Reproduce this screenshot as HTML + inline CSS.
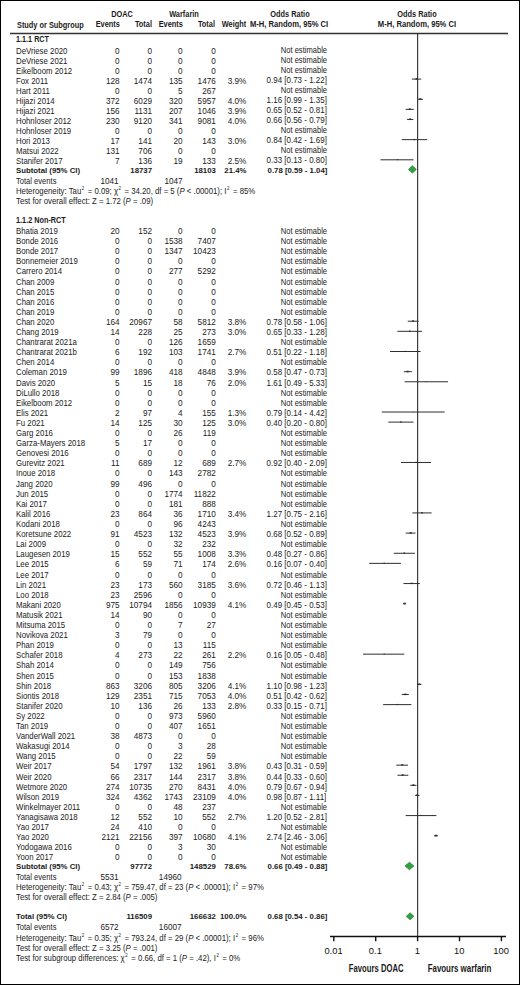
<!DOCTYPE html>
<html><head><meta charset="utf-8"><style>
html,body{margin:0;padding:0;background:#fff;overflow:hidden;}
#c{position:relative;width:520px;height:985px;overflow:hidden;background:#fff;font-family:"Liberation Sans",sans-serif;color:#1a1a1a;}
#b{position:absolute;left:0;top:0;width:520px;height:985px;box-sizing:border-box;border:1px solid #000;}
.t{position:absolute;white-space:nowrap;line-height:0;}
.sup{font-size:4.6px;position:relative;top:-3.6px;margin:0 1.4px 0 0.6px;}
svg{position:absolute;left:0;top:0;}
</style></head><body><div id="c"><div id="b"></div>
<svg width="520" height="985" viewBox="0 0 520 985">
<line x1="417.60" y1="33.5" x2="417.60" y2="936.50" stroke="#3c3c3c" stroke-width="1.2"/>
<line x1="10" y1="33.5" x2="508" y2="33.5" stroke="#333" stroke-width="1.4"/>
<line x1="330" y1="936.50" x2="506" y2="936.50" stroke="#111" stroke-width="1.5"/>
<line x1="333.80" y1="936.50" x2="333.80" y2="941.2" stroke="#111" stroke-width="1.4"/>
<line x1="375.70" y1="936.50" x2="375.70" y2="941.2" stroke="#111" stroke-width="1.4"/>
<line x1="417.60" y1="936.50" x2="417.60" y2="941.2" stroke="#111" stroke-width="1.4"/>
<line x1="459.50" y1="936.50" x2="459.50" y2="941.2" stroke="#111" stroke-width="1.4"/>
<line x1="501.40" y1="936.50" x2="501.40" y2="941.2" stroke="#111" stroke-width="1.4"/>
<line x1="411.87" y1="79.10" x2="421.22" y2="79.10" stroke="#2e2e2e" stroke-width="1"/>
<rect x="415.50" y="78.12" width="1.95" height="1.56" fill="#1c2f45"/>
<line x1="417.42" y1="99.28" x2="423.06" y2="99.28" stroke="#2e2e2e" stroke-width="1"/>
<rect x="419.30" y="98.28" width="2.00" height="1.60" fill="#1c2f45"/>
<line x1="405.70" y1="109.36" x2="413.77" y2="109.36" stroke="#2e2e2e" stroke-width="1"/>
<rect x="408.79" y="108.39" width="1.95" height="1.56" fill="#1c2f45"/>
<line x1="407.05" y1="119.45" x2="413.31" y2="119.45" stroke="#2e2e2e" stroke-width="1"/>
<rect x="409.04" y="118.45" width="2.00" height="1.60" fill="#1c2f45"/>
<line x1="401.81" y1="139.63" x2="427.15" y2="139.63" stroke="#2e2e2e" stroke-width="1"/>
<rect x="413.68" y="138.88" width="1.50" height="1.20" fill="#1c2f45"/>
<line x1="380.47" y1="159.81" x2="413.54" y2="159.81" stroke="#2e2e2e" stroke-width="1"/>
<rect x="396.80" y="159.18" width="1.25" height="1.00" fill="#1c2f45"/>
<line x1="407.69" y1="321.23" x2="418.66" y2="321.23" stroke="#2e2e2e" stroke-width="1"/>
<rect x="412.13" y="320.28" width="1.90" height="1.52" fill="#1c2f45"/>
<line x1="397.43" y1="331.32" x2="422.09" y2="331.32" stroke="#2e2e2e" stroke-width="1"/>
<rect x="409.01" y="330.57" width="1.50" height="1.20" fill="#1c2f45"/>
<line x1="390.05" y1="351.50" x2="420.61" y2="351.50" stroke="#2e2e2e" stroke-width="1"/>
<rect x="404.67" y="350.82" width="1.35" height="1.08" fill="#1c2f45"/>
<line x1="403.86" y1="371.68" x2="411.87" y2="371.68" stroke="#2e2e2e" stroke-width="1"/>
<rect x="406.71" y="370.70" width="1.95" height="1.56" fill="#1c2f45"/>
<line x1="404.62" y1="381.77" x2="448.05" y2="381.77" stroke="#2e2e2e" stroke-width="1"/>
<rect x="425.77" y="381.27" width="1.00" height="0.80" fill="#1c2f45"/>
<line x1="381.82" y1="412.03" x2="444.64" y2="412.03" stroke="#2e2e2e" stroke-width="1"/>
<rect x="412.99" y="411.71" width="0.65" height="0.52" fill="#1c2f45"/>
<line x1="388.31" y1="422.12" x2="413.54" y2="422.12" stroke="#2e2e2e" stroke-width="1"/>
<rect x="400.18" y="421.37" width="1.50" height="1.20" fill="#1c2f45"/>
<line x1="400.93" y1="462.48" x2="431.01" y2="462.48" stroke="#2e2e2e" stroke-width="1"/>
<rect x="415.41" y="461.80" width="1.35" height="1.08" fill="#1c2f45"/>
<line x1="412.37" y1="512.92" x2="431.61" y2="512.92" stroke="#2e2e2e" stroke-width="1"/>
<rect x="421.10" y="512.07" width="1.70" height="1.36" fill="#1c2f45"/>
<line x1="405.70" y1="533.10" x2="415.48" y2="533.10" stroke="#2e2e2e" stroke-width="1"/>
<rect x="409.61" y="532.13" width="1.95" height="1.56" fill="#1c2f45"/>
<line x1="393.77" y1="553.28" x2="414.86" y2="553.28" stroke="#2e2e2e" stroke-width="1"/>
<rect x="403.42" y="552.46" width="1.65" height="1.32" fill="#1c2f45"/>
<line x1="369.21" y1="563.37" x2="400.93" y2="563.37" stroke="#2e2e2e" stroke-width="1"/>
<rect x="383.60" y="562.72" width="1.30" height="1.04" fill="#1c2f45"/>
<line x1="403.47" y1="583.55" x2="419.82" y2="583.55" stroke="#2e2e2e" stroke-width="1"/>
<rect x="410.72" y="582.65" width="1.80" height="1.44" fill="#1c2f45"/>
<line x1="403.07" y1="603.73" x2="406.05" y2="603.73" stroke="#2e2e2e" stroke-width="1"/>
<rect x="403.59" y="602.70" width="2.05" height="1.64" fill="#1c2f45"/>
<line x1="363.09" y1="654.17" x2="404.24" y2="654.17" stroke="#2e2e2e" stroke-width="1"/>
<rect x="383.70" y="653.62" width="1.10" height="0.88" fill="#1c2f45"/>
<line x1="417.23" y1="684.44" x2="421.37" y2="684.44" stroke="#2e2e2e" stroke-width="1"/>
<rect x="418.31" y="683.41" width="2.05" height="1.64" fill="#1c2f45"/>
<line x1="401.81" y1="694.53" x2="408.90" y2="694.53" stroke="#2e2e2e" stroke-width="1"/>
<rect x="404.35" y="693.53" width="2.00" height="1.60" fill="#1c2f45"/>
<line x1="383.08" y1="704.62" x2="411.37" y2="704.62" stroke="#2e2e2e" stroke-width="1"/>
<rect x="396.73" y="703.92" width="1.40" height="1.12" fill="#1c2f45"/>
<line x1="396.29" y1="765.15" x2="408.00" y2="765.15" stroke="#2e2e2e" stroke-width="1"/>
<rect x="401.29" y="764.20" width="1.90" height="1.52" fill="#1c2f45"/>
<line x1="397.43" y1="775.24" x2="408.30" y2="775.24" stroke="#2e2e2e" stroke-width="1"/>
<rect x="401.71" y="774.29" width="1.90" height="1.52" fill="#1c2f45"/>
<line x1="410.31" y1="785.33" x2="416.47" y2="785.33" stroke="#2e2e2e" stroke-width="1"/>
<rect x="412.31" y="784.33" width="2.00" height="1.60" fill="#1c2f45"/>
<line x1="415.07" y1="795.42" x2="419.50" y2="795.42" stroke="#2e2e2e" stroke-width="1"/>
<rect x="416.23" y="794.42" width="2.00" height="1.60" fill="#1c2f45"/>
<line x1="405.70" y1="815.59" x2="436.40" y2="815.59" stroke="#2e2e2e" stroke-width="1"/>
<rect x="420.24" y="814.92" width="1.35" height="1.08" fill="#1c2f45"/>
<line x1="433.98" y1="835.77" x2="437.95" y2="835.77" stroke="#2e2e2e" stroke-width="1"/>
<rect x="434.92" y="834.75" width="2.05" height="1.64" fill="#1c2f45"/>
<polygon points="408.50,169.40 412.40,165.70 416.30,169.40 412.40,173.10" fill="#2fa33f" stroke="#1f7a2c" stroke-width="0.7"/>
<polygon points="405.00,866.00 409.45,862.30 413.90,866.00 409.45,869.70" fill="#2fa33f" stroke="#1f7a2c" stroke-width="0.7"/>
<polygon points="406.30,916.30 410.10,912.80 413.90,916.30 410.10,919.80" fill="#2fa33f" stroke="#1f7a2c" stroke-width="0.7"/>
</svg>
<div class="t" style="left:-28.20px;width:300px;text-align:center;top:15px;font-size:8.2px;font-weight:bold;transform:scaleX(0.9);transform-origin:center 0;">DOAC</div>
<div class="t" style="left:33.50px;width:300px;text-align:center;top:15px;font-size:8.2px;font-weight:bold;transform:scaleX(0.9);transform-origin:center 0;">Warfarin</div>
<div class="t" style="left:140.00px;width:300px;text-align:center;top:15px;font-size:8.2px;font-weight:bold;transform:scaleX(0.9);transform-origin:center 0;">Odds Ratio</div>
<div class="t" style="left:266.80px;width:300px;text-align:center;top:15px;font-size:8.2px;font-weight:bold;transform:scaleX(0.9);transform-origin:center 0;">Odds Ratio</div>
<div class="t" style="left:16.50px;top:26px;font-size:8.2px;font-weight:bold;transform:scaleX(0.9);transform-origin:left 0;">Study or Subgroup</div>
<div class="t" style="right:400.40px;top:25px;font-size:8.2px;font-weight:bold;transform:scaleX(0.9);transform-origin:right 0;">Events</div>
<div class="t" style="right:368.00px;top:25px;font-size:8.2px;font-weight:bold;transform:scaleX(0.9);transform-origin:right 0;">Total</div>
<div class="t" style="right:337.40px;top:25px;font-size:8.2px;font-weight:bold;transform:scaleX(0.9);transform-origin:right 0;">Events</div>
<div class="t" style="right:305.20px;top:25px;font-size:8.2px;font-weight:bold;transform:scaleX(0.9);transform-origin:right 0;">Total</div>
<div class="t" style="right:273.60px;top:25px;font-size:8.2px;font-weight:bold;transform:scaleX(0.9);transform-origin:right 0;">Weight</div>
<div class="t" style="right:191.60px;top:25px;font-size:8.2px;font-weight:bold;transform:scaleX(0.93);transform-origin:right 0;">M-H, Random, 95% CI</div>
<div class="t" style="left:266.90px;width:300px;text-align:center;top:25px;font-size:8.2px;font-weight:bold;transform:scaleX(0.93);transform-origin:center 0;">M-H, Random, 95% CI</div>
<div class="t" style="left:16.30px;top:40px;font-size:8.2px;font-weight:bold;transform:scaleX(0.885);transform-origin:left 0;">1.1.1 RCT</div>
<div class="t" style="left:16.00px;top:52px;font-size:8.2px;transform:scaleX(0.955);transform-origin:left 0;">DeVriese 2020</div>
<div class="t" style="right:400.40px;top:52px;font-size:8.2px;">0</div>
<div class="t" style="right:368.00px;top:52px;font-size:8.2px;">0</div>
<div class="t" style="right:337.40px;top:52px;font-size:8.2px;">0</div>
<div class="t" style="right:304.20px;top:52px;font-size:8.2px;">0</div>
<div class="t" style="right:192.90px;top:51px;font-size:8.2px;transform:scaleX(0.925);transform-origin:right 0;">Not estimable</div>
<div class="t" style="left:16.00px;top:62px;font-size:8.2px;transform:scaleX(0.955);transform-origin:left 0;">DeVriese 2021</div>
<div class="t" style="right:400.40px;top:62px;font-size:8.2px;">0</div>
<div class="t" style="right:368.00px;top:62px;font-size:8.2px;">0</div>
<div class="t" style="right:337.40px;top:62px;font-size:8.2px;">0</div>
<div class="t" style="right:304.20px;top:62px;font-size:8.2px;">0</div>
<div class="t" style="right:192.90px;top:61px;font-size:8.2px;transform:scaleX(0.925);transform-origin:right 0;">Not estimable</div>
<div class="t" style="left:16.00px;top:72px;font-size:8.2px;transform:scaleX(0.955);transform-origin:left 0;">Eikelboom 2012</div>
<div class="t" style="right:400.40px;top:72px;font-size:8.2px;">0</div>
<div class="t" style="right:368.00px;top:72px;font-size:8.2px;">0</div>
<div class="t" style="right:337.40px;top:72px;font-size:8.2px;">0</div>
<div class="t" style="right:304.20px;top:72px;font-size:8.2px;">0</div>
<div class="t" style="right:192.90px;top:71px;font-size:8.2px;transform:scaleX(0.925);transform-origin:right 0;">Not estimable</div>
<div class="t" style="left:16.00px;top:82px;font-size:8.2px;transform:scaleX(0.955);transform-origin:left 0;">Fox 2011</div>
<div class="t" style="right:400.40px;top:82px;font-size:8.2px;">128</div>
<div class="t" style="right:368.00px;top:82px;font-size:8.2px;">1474</div>
<div class="t" style="right:337.40px;top:82px;font-size:8.2px;">135</div>
<div class="t" style="right:304.20px;top:82px;font-size:8.2px;">1476</div>
<div class="t" style="right:273.60px;top:82px;font-size:8.2px;">3.9%</div>
<div class="t" style="right:193.40px;top:81px;font-size:8.2px;transform:scaleX(0.975);transform-origin:right 0;">0.94 [0.73 - 1.22]</div>
<div class="t" style="left:16.00px;top:92px;font-size:8.2px;transform:scaleX(0.955);transform-origin:left 0;">Hart 2011</div>
<div class="t" style="right:400.40px;top:92px;font-size:8.2px;">0</div>
<div class="t" style="right:368.00px;top:92px;font-size:8.2px;">0</div>
<div class="t" style="right:337.40px;top:92px;font-size:8.2px;">5</div>
<div class="t" style="right:304.20px;top:92px;font-size:8.2px;">267</div>
<div class="t" style="right:192.90px;top:91px;font-size:8.2px;transform:scaleX(0.925);transform-origin:right 0;">Not estimable</div>
<div class="t" style="left:16.00px;top:102px;font-size:8.2px;transform:scaleX(0.955);transform-origin:left 0;">Hijazi 2014</div>
<div class="t" style="right:400.40px;top:102px;font-size:8.2px;">372</div>
<div class="t" style="right:368.00px;top:102px;font-size:8.2px;">6029</div>
<div class="t" style="right:337.40px;top:102px;font-size:8.2px;">320</div>
<div class="t" style="right:304.20px;top:102px;font-size:8.2px;">5957</div>
<div class="t" style="right:273.60px;top:102px;font-size:8.2px;">4.0%</div>
<div class="t" style="right:193.40px;top:101px;font-size:8.2px;transform:scaleX(0.975);transform-origin:right 0;">1.16 [0.99 - 1.35]</div>
<div class="t" style="left:16.00px;top:112px;font-size:8.2px;transform:scaleX(0.955);transform-origin:left 0;">Hijazi 2021</div>
<div class="t" style="right:400.40px;top:112px;font-size:8.2px;">156</div>
<div class="t" style="right:368.00px;top:112px;font-size:8.2px;">1131</div>
<div class="t" style="right:337.40px;top:112px;font-size:8.2px;">207</div>
<div class="t" style="right:304.20px;top:112px;font-size:8.2px;">1046</div>
<div class="t" style="right:273.60px;top:112px;font-size:8.2px;">3.9%</div>
<div class="t" style="right:193.40px;top:111px;font-size:8.2px;transform:scaleX(0.975);transform-origin:right 0;">0.65 [0.52 - 0.81]</div>
<div class="t" style="left:16.00px;top:122px;font-size:8.2px;transform:scaleX(0.955);transform-origin:left 0;">Hohnloser 2012</div>
<div class="t" style="right:400.40px;top:122px;font-size:8.2px;">230</div>
<div class="t" style="right:368.00px;top:122px;font-size:8.2px;">9120</div>
<div class="t" style="right:337.40px;top:122px;font-size:8.2px;">341</div>
<div class="t" style="right:304.20px;top:122px;font-size:8.2px;">9081</div>
<div class="t" style="right:273.60px;top:122px;font-size:8.2px;">4.0%</div>
<div class="t" style="right:193.40px;top:121px;font-size:8.2px;transform:scaleX(0.975);transform-origin:right 0;">0.66 [0.56 - 0.79]</div>
<div class="t" style="left:16.00px;top:132px;font-size:8.2px;transform:scaleX(0.955);transform-origin:left 0;">Hohnloser 2019</div>
<div class="t" style="right:400.40px;top:132px;font-size:8.2px;">0</div>
<div class="t" style="right:368.00px;top:132px;font-size:8.2px;">0</div>
<div class="t" style="right:337.40px;top:132px;font-size:8.2px;">0</div>
<div class="t" style="right:304.20px;top:132px;font-size:8.2px;">0</div>
<div class="t" style="right:192.90px;top:131px;font-size:8.2px;transform:scaleX(0.925);transform-origin:right 0;">Not estimable</div>
<div class="t" style="left:16.00px;top:142px;font-size:8.2px;transform:scaleX(0.955);transform-origin:left 0;">Hori 2013</div>
<div class="t" style="right:400.40px;top:142px;font-size:8.2px;">17</div>
<div class="t" style="right:368.00px;top:142px;font-size:8.2px;">141</div>
<div class="t" style="right:337.40px;top:142px;font-size:8.2px;">20</div>
<div class="t" style="right:304.20px;top:142px;font-size:8.2px;">143</div>
<div class="t" style="right:273.60px;top:142px;font-size:8.2px;">3.0%</div>
<div class="t" style="right:193.40px;top:141px;font-size:8.2px;transform:scaleX(0.975);transform-origin:right 0;">0.84 [0.42 - 1.69]</div>
<div class="t" style="left:16.00px;top:152px;font-size:8.2px;transform:scaleX(0.955);transform-origin:left 0;">Matsui 2022</div>
<div class="t" style="right:400.40px;top:152px;font-size:8.2px;">131</div>
<div class="t" style="right:368.00px;top:152px;font-size:8.2px;">706</div>
<div class="t" style="right:337.40px;top:152px;font-size:8.2px;">0</div>
<div class="t" style="right:304.20px;top:152px;font-size:8.2px;">0</div>
<div class="t" style="right:192.90px;top:151px;font-size:8.2px;transform:scaleX(0.925);transform-origin:right 0;">Not estimable</div>
<div class="t" style="left:16.00px;top:162px;font-size:8.2px;transform:scaleX(0.955);transform-origin:left 0;">Stanifer 2017</div>
<div class="t" style="right:400.40px;top:162px;font-size:8.2px;">7</div>
<div class="t" style="right:368.00px;top:162px;font-size:8.2px;">136</div>
<div class="t" style="right:337.40px;top:162px;font-size:8.2px;">19</div>
<div class="t" style="right:304.20px;top:162px;font-size:8.2px;">133</div>
<div class="t" style="right:273.60px;top:162px;font-size:8.2px;">2.5%</div>
<div class="t" style="right:193.40px;top:161px;font-size:8.2px;transform:scaleX(0.975);transform-origin:right 0;">0.33 [0.13 - 0.80]</div>
<div class="t" style="left:16.00px;top:171px;font-size:7.8px;font-weight:bold;transform:scaleX(1);transform-origin:left 0;">Subtotal (95% CI)</div>
<div class="t" style="right:368.00px;top:171px;font-size:7.8px;font-weight:bold;">18737</div>
<div class="t" style="right:304.20px;top:171px;font-size:7.8px;font-weight:bold;">18103</div>
<div class="t" style="right:273.60px;top:171px;font-size:7.8px;font-weight:bold;">21.4%</div>
<div class="t" style="right:192.60px;top:171px;font-size:7.8px;font-weight:bold;">0.78 [0.59 - 1.04]</div>
<div class="t" style="left:16.00px;top:182px;font-size:8.2px;transform:scaleX(0.925);transform-origin:left 0;">Total events</div>
<div class="t" style="right:401.40px;top:182px;font-size:8.2px;">1041</div>
<div class="t" style="right:337.40px;top:182px;font-size:8.2px;">1047</div>
<div class="t" style="left:16.00px;top:192px;font-size:8.2px;transform:scaleX(0.951);transform-origin:left 0;">Heterogeneity: Tau<span class="sup">2</span> = 0.09; &chi;<span class="sup">2</span> = 34.20, df = 5 (<i>P</i> &lt; .00001); I<span class="sup">2</span> = 85%</div>
<div class="t" style="left:16.00px;top:202px;font-size:8.2px;transform:scaleX(0.951);transform-origin:left 0;">Test for overall effect: Z = 1.72 (<i>P</i> = .09)</div>
<div class="t" style="left:16.30px;top:221px;font-size:8.2px;font-weight:bold;transform:scaleX(0.89);transform-origin:left 0;">1.1.2 Non-RCT</div>
<div class="t" style="left:16.00px;top:232px;font-size:8.2px;transform:scaleX(0.955);transform-origin:left 0;">Bhatia 2019</div>
<div class="t" style="right:400.40px;top:232px;font-size:8.2px;">20</div>
<div class="t" style="right:368.00px;top:232px;font-size:8.2px;">152</div>
<div class="t" style="right:337.40px;top:232px;font-size:8.2px;">0</div>
<div class="t" style="right:304.20px;top:232px;font-size:8.2px;">0</div>
<div class="t" style="right:192.90px;top:232px;font-size:8.2px;transform:scaleX(0.925);transform-origin:right 0;">Not estimable</div>
<div class="t" style="left:16.00px;top:242px;font-size:8.2px;transform:scaleX(0.955);transform-origin:left 0;">Bonde 2016</div>
<div class="t" style="right:400.40px;top:242px;font-size:8.2px;">0</div>
<div class="t" style="right:368.00px;top:242px;font-size:8.2px;">0</div>
<div class="t" style="right:337.40px;top:242px;font-size:8.2px;">1538</div>
<div class="t" style="right:304.20px;top:242px;font-size:8.2px;">7407</div>
<div class="t" style="right:192.90px;top:242px;font-size:8.2px;transform:scaleX(0.925);transform-origin:right 0;">Not estimable</div>
<div class="t" style="left:16.00px;top:252px;font-size:8.2px;transform:scaleX(0.955);transform-origin:left 0;">Bonde 2017</div>
<div class="t" style="right:400.40px;top:252px;font-size:8.2px;">0</div>
<div class="t" style="right:368.00px;top:252px;font-size:8.2px;">0</div>
<div class="t" style="right:337.40px;top:252px;font-size:8.2px;">1347</div>
<div class="t" style="right:304.20px;top:252px;font-size:8.2px;">10423</div>
<div class="t" style="right:192.90px;top:252px;font-size:8.2px;transform:scaleX(0.925);transform-origin:right 0;">Not estimable</div>
<div class="t" style="left:16.00px;top:262px;font-size:8.2px;transform:scaleX(0.955);transform-origin:left 0;">Bonnemeier 2019</div>
<div class="t" style="right:400.40px;top:262px;font-size:8.2px;">0</div>
<div class="t" style="right:368.00px;top:262px;font-size:8.2px;">0</div>
<div class="t" style="right:337.40px;top:262px;font-size:8.2px;">0</div>
<div class="t" style="right:304.20px;top:262px;font-size:8.2px;">0</div>
<div class="t" style="right:192.90px;top:262px;font-size:8.2px;transform:scaleX(0.925);transform-origin:right 0;">Not estimable</div>
<div class="t" style="left:16.00px;top:272px;font-size:8.2px;transform:scaleX(0.955);transform-origin:left 0;">Carrero 2014</div>
<div class="t" style="right:400.40px;top:272px;font-size:8.2px;">0</div>
<div class="t" style="right:368.00px;top:272px;font-size:8.2px;">0</div>
<div class="t" style="right:337.40px;top:272px;font-size:8.2px;">277</div>
<div class="t" style="right:304.20px;top:272px;font-size:8.2px;">5292</div>
<div class="t" style="right:192.90px;top:272px;font-size:8.2px;transform:scaleX(0.925);transform-origin:right 0;">Not estimable</div>
<div class="t" style="left:16.00px;top:283px;font-size:8.2px;transform:scaleX(0.955);transform-origin:left 0;">Chan 2009</div>
<div class="t" style="right:400.40px;top:283px;font-size:8.2px;">0</div>
<div class="t" style="right:368.00px;top:283px;font-size:8.2px;">0</div>
<div class="t" style="right:337.40px;top:283px;font-size:8.2px;">0</div>
<div class="t" style="right:304.20px;top:283px;font-size:8.2px;">0</div>
<div class="t" style="right:192.90px;top:283px;font-size:8.2px;transform:scaleX(0.925);transform-origin:right 0;">Not estimable</div>
<div class="t" style="left:16.00px;top:293px;font-size:8.2px;transform:scaleX(0.955);transform-origin:left 0;">Chan 2015</div>
<div class="t" style="right:400.40px;top:293px;font-size:8.2px;">0</div>
<div class="t" style="right:368.00px;top:293px;font-size:8.2px;">0</div>
<div class="t" style="right:337.40px;top:293px;font-size:8.2px;">0</div>
<div class="t" style="right:304.20px;top:293px;font-size:8.2px;">0</div>
<div class="t" style="right:192.90px;top:293px;font-size:8.2px;transform:scaleX(0.925);transform-origin:right 0;">Not estimable</div>
<div class="t" style="left:16.00px;top:303px;font-size:8.2px;transform:scaleX(0.955);transform-origin:left 0;">Chan 2016</div>
<div class="t" style="right:400.40px;top:303px;font-size:8.2px;">0</div>
<div class="t" style="right:368.00px;top:303px;font-size:8.2px;">0</div>
<div class="t" style="right:337.40px;top:303px;font-size:8.2px;">0</div>
<div class="t" style="right:304.20px;top:303px;font-size:8.2px;">0</div>
<div class="t" style="right:192.90px;top:303px;font-size:8.2px;transform:scaleX(0.925);transform-origin:right 0;">Not estimable</div>
<div class="t" style="left:16.00px;top:313px;font-size:8.2px;transform:scaleX(0.955);transform-origin:left 0;">Chan 2019</div>
<div class="t" style="right:400.40px;top:313px;font-size:8.2px;">0</div>
<div class="t" style="right:368.00px;top:313px;font-size:8.2px;">0</div>
<div class="t" style="right:337.40px;top:313px;font-size:8.2px;">0</div>
<div class="t" style="right:304.20px;top:313px;font-size:8.2px;">0</div>
<div class="t" style="right:192.90px;top:313px;font-size:8.2px;transform:scaleX(0.925);transform-origin:right 0;">Not estimable</div>
<div class="t" style="left:16.00px;top:323px;font-size:8.2px;transform:scaleX(0.955);transform-origin:left 0;">Chan 2020</div>
<div class="t" style="right:400.40px;top:323px;font-size:8.2px;">164</div>
<div class="t" style="right:368.00px;top:323px;font-size:8.2px;">20967</div>
<div class="t" style="right:337.40px;top:323px;font-size:8.2px;">58</div>
<div class="t" style="right:304.20px;top:323px;font-size:8.2px;">5812</div>
<div class="t" style="right:273.60px;top:323px;font-size:8.2px;">3.8%</div>
<div class="t" style="right:193.40px;top:323px;font-size:8.2px;transform:scaleX(0.975);transform-origin:right 0;">0.78 [0.58 - 1.06]</div>
<div class="t" style="left:16.00px;top:333px;font-size:8.2px;transform:scaleX(0.955);transform-origin:left 0;">Chang 2019</div>
<div class="t" style="right:400.40px;top:333px;font-size:8.2px;">14</div>
<div class="t" style="right:368.00px;top:333px;font-size:8.2px;">228</div>
<div class="t" style="right:337.40px;top:333px;font-size:8.2px;">25</div>
<div class="t" style="right:304.20px;top:333px;font-size:8.2px;">273</div>
<div class="t" style="right:273.60px;top:333px;font-size:8.2px;">3.0%</div>
<div class="t" style="right:193.40px;top:333px;font-size:8.2px;transform:scaleX(0.975);transform-origin:right 0;">0.65 [0.33 - 1.28]</div>
<div class="t" style="left:16.00px;top:343px;font-size:8.2px;transform:scaleX(0.955);transform-origin:left 0;">Chantrarat 2021a</div>
<div class="t" style="right:400.40px;top:343px;font-size:8.2px;">0</div>
<div class="t" style="right:368.00px;top:343px;font-size:8.2px;">0</div>
<div class="t" style="right:337.40px;top:343px;font-size:8.2px;">126</div>
<div class="t" style="right:304.20px;top:343px;font-size:8.2px;">1659</div>
<div class="t" style="right:192.90px;top:343px;font-size:8.2px;transform:scaleX(0.925);transform-origin:right 0;">Not estimable</div>
<div class="t" style="left:16.00px;top:353px;font-size:8.2px;transform:scaleX(0.955);transform-origin:left 0;">Chantrarat 2021b</div>
<div class="t" style="right:400.40px;top:353px;font-size:8.2px;">6</div>
<div class="t" style="right:368.00px;top:353px;font-size:8.2px;">192</div>
<div class="t" style="right:337.40px;top:353px;font-size:8.2px;">103</div>
<div class="t" style="right:304.20px;top:353px;font-size:8.2px;">1741</div>
<div class="t" style="right:273.60px;top:353px;font-size:8.2px;">2.7%</div>
<div class="t" style="right:193.40px;top:353px;font-size:8.2px;transform:scaleX(0.975);transform-origin:right 0;">0.51 [0.22 - 1.18]</div>
<div class="t" style="left:16.00px;top:363px;font-size:8.2px;transform:scaleX(0.955);transform-origin:left 0;">Chen 2014</div>
<div class="t" style="right:400.40px;top:363px;font-size:8.2px;">0</div>
<div class="t" style="right:368.00px;top:363px;font-size:8.2px;">0</div>
<div class="t" style="right:337.40px;top:363px;font-size:8.2px;">0</div>
<div class="t" style="right:304.20px;top:363px;font-size:8.2px;">0</div>
<div class="t" style="right:192.90px;top:363px;font-size:8.2px;transform:scaleX(0.925);transform-origin:right 0;">Not estimable</div>
<div class="t" style="left:16.00px;top:373px;font-size:8.2px;transform:scaleX(0.955);transform-origin:left 0;">Coleman 2019</div>
<div class="t" style="right:400.40px;top:373px;font-size:8.2px;">99</div>
<div class="t" style="right:368.00px;top:373px;font-size:8.2px;">1896</div>
<div class="t" style="right:337.40px;top:373px;font-size:8.2px;">418</div>
<div class="t" style="right:304.20px;top:373px;font-size:8.2px;">4848</div>
<div class="t" style="right:273.60px;top:373px;font-size:8.2px;">3.9%</div>
<div class="t" style="right:193.40px;top:373px;font-size:8.2px;transform:scaleX(0.975);transform-origin:right 0;">0.58 [0.47 - 0.73]</div>
<div class="t" style="left:16.00px;top:384px;font-size:8.2px;transform:scaleX(0.955);transform-origin:left 0;">Davis 2020</div>
<div class="t" style="right:400.40px;top:384px;font-size:8.2px;">5</div>
<div class="t" style="right:368.00px;top:384px;font-size:8.2px;">15</div>
<div class="t" style="right:337.40px;top:384px;font-size:8.2px;">18</div>
<div class="t" style="right:304.20px;top:384px;font-size:8.2px;">76</div>
<div class="t" style="right:273.60px;top:384px;font-size:8.2px;">2.0%</div>
<div class="t" style="right:193.40px;top:384px;font-size:8.2px;transform:scaleX(0.975);transform-origin:right 0;">1.61 [0.49 - 5.33]</div>
<div class="t" style="left:16.00px;top:394px;font-size:8.2px;transform:scaleX(0.955);transform-origin:left 0;">DiLullo 2018</div>
<div class="t" style="right:400.40px;top:394px;font-size:8.2px;">0</div>
<div class="t" style="right:368.00px;top:394px;font-size:8.2px;">0</div>
<div class="t" style="right:337.40px;top:394px;font-size:8.2px;">0</div>
<div class="t" style="right:304.20px;top:394px;font-size:8.2px;">0</div>
<div class="t" style="right:192.90px;top:394px;font-size:8.2px;transform:scaleX(0.925);transform-origin:right 0;">Not estimable</div>
<div class="t" style="left:16.00px;top:404px;font-size:8.2px;transform:scaleX(0.955);transform-origin:left 0;">Eikelboom 2012</div>
<div class="t" style="right:400.40px;top:404px;font-size:8.2px;">0</div>
<div class="t" style="right:368.00px;top:404px;font-size:8.2px;">0</div>
<div class="t" style="right:337.40px;top:404px;font-size:8.2px;">0</div>
<div class="t" style="right:304.20px;top:404px;font-size:8.2px;">0</div>
<div class="t" style="right:192.90px;top:404px;font-size:8.2px;transform:scaleX(0.925);transform-origin:right 0;">Not estimable</div>
<div class="t" style="left:16.00px;top:414px;font-size:8.2px;transform:scaleX(0.955);transform-origin:left 0;">Elis 2021</div>
<div class="t" style="right:400.40px;top:414px;font-size:8.2px;">2</div>
<div class="t" style="right:368.00px;top:414px;font-size:8.2px;">97</div>
<div class="t" style="right:337.40px;top:414px;font-size:8.2px;">4</div>
<div class="t" style="right:304.20px;top:414px;font-size:8.2px;">155</div>
<div class="t" style="right:273.60px;top:414px;font-size:8.2px;">1.3%</div>
<div class="t" style="right:193.40px;top:414px;font-size:8.2px;transform:scaleX(0.975);transform-origin:right 0;">0.79 [0.14 - 4.42]</div>
<div class="t" style="left:16.00px;top:424px;font-size:8.2px;transform:scaleX(0.955);transform-origin:left 0;">Fu 2021</div>
<div class="t" style="right:400.40px;top:424px;font-size:8.2px;">14</div>
<div class="t" style="right:368.00px;top:424px;font-size:8.2px;">125</div>
<div class="t" style="right:337.40px;top:424px;font-size:8.2px;">30</div>
<div class="t" style="right:304.20px;top:424px;font-size:8.2px;">125</div>
<div class="t" style="right:273.60px;top:424px;font-size:8.2px;">3.0%</div>
<div class="t" style="right:193.40px;top:424px;font-size:8.2px;transform:scaleX(0.975);transform-origin:right 0;">0.40 [0.20 - 0.80]</div>
<div class="t" style="left:16.00px;top:434px;font-size:8.2px;transform:scaleX(0.955);transform-origin:left 0;">Garg 2016</div>
<div class="t" style="right:400.40px;top:434px;font-size:8.2px;">0</div>
<div class="t" style="right:368.00px;top:434px;font-size:8.2px;">0</div>
<div class="t" style="right:337.40px;top:434px;font-size:8.2px;">26</div>
<div class="t" style="right:304.20px;top:434px;font-size:8.2px;">119</div>
<div class="t" style="right:192.90px;top:434px;font-size:8.2px;transform:scaleX(0.925);transform-origin:right 0;">Not estimable</div>
<div class="t" style="left:16.00px;top:444px;font-size:8.2px;transform:scaleX(0.955);transform-origin:left 0;">Garza-Mayers 2018</div>
<div class="t" style="right:400.40px;top:444px;font-size:8.2px;">5</div>
<div class="t" style="right:368.00px;top:444px;font-size:8.2px;">17</div>
<div class="t" style="right:337.40px;top:444px;font-size:8.2px;">0</div>
<div class="t" style="right:304.20px;top:444px;font-size:8.2px;">0</div>
<div class="t" style="right:192.90px;top:444px;font-size:8.2px;transform:scaleX(0.925);transform-origin:right 0;">Not estimable</div>
<div class="t" style="left:16.00px;top:454px;font-size:8.2px;transform:scaleX(0.955);transform-origin:left 0;">Genovesi 2016</div>
<div class="t" style="right:400.40px;top:454px;font-size:8.2px;">0</div>
<div class="t" style="right:368.00px;top:454px;font-size:8.2px;">0</div>
<div class="t" style="right:337.40px;top:454px;font-size:8.2px;">0</div>
<div class="t" style="right:304.20px;top:454px;font-size:8.2px;">0</div>
<div class="t" style="right:192.90px;top:454px;font-size:8.2px;transform:scaleX(0.925);transform-origin:right 0;">Not estimable</div>
<div class="t" style="left:16.00px;top:464px;font-size:8.2px;transform:scaleX(0.955);transform-origin:left 0;">Gurevitz 2021</div>
<div class="t" style="right:400.40px;top:464px;font-size:8.2px;">11</div>
<div class="t" style="right:368.00px;top:464px;font-size:8.2px;">689</div>
<div class="t" style="right:337.40px;top:464px;font-size:8.2px;">12</div>
<div class="t" style="right:304.20px;top:464px;font-size:8.2px;">689</div>
<div class="t" style="right:273.60px;top:464px;font-size:8.2px;">2.7%</div>
<div class="t" style="right:193.40px;top:464px;font-size:8.2px;transform:scaleX(0.975);transform-origin:right 0;">0.92 [0.40 - 2.09]</div>
<div class="t" style="left:16.00px;top:474px;font-size:8.2px;transform:scaleX(0.955);transform-origin:left 0;">Inoue 2018</div>
<div class="t" style="right:400.40px;top:474px;font-size:8.2px;">0</div>
<div class="t" style="right:368.00px;top:474px;font-size:8.2px;">0</div>
<div class="t" style="right:337.40px;top:474px;font-size:8.2px;">143</div>
<div class="t" style="right:304.20px;top:474px;font-size:8.2px;">2782</div>
<div class="t" style="right:192.90px;top:474px;font-size:8.2px;transform:scaleX(0.925);transform-origin:right 0;">Not estimable</div>
<div class="t" style="left:16.00px;top:485px;font-size:8.2px;transform:scaleX(0.955);transform-origin:left 0;">Jang 2020</div>
<div class="t" style="right:400.40px;top:485px;font-size:8.2px;">99</div>
<div class="t" style="right:368.00px;top:485px;font-size:8.2px;">496</div>
<div class="t" style="right:337.40px;top:485px;font-size:8.2px;">0</div>
<div class="t" style="right:304.20px;top:485px;font-size:8.2px;">0</div>
<div class="t" style="right:192.90px;top:485px;font-size:8.2px;transform:scaleX(0.925);transform-origin:right 0;">Not estimable</div>
<div class="t" style="left:16.00px;top:495px;font-size:8.2px;transform:scaleX(0.955);transform-origin:left 0;">Jun 2015</div>
<div class="t" style="right:400.40px;top:495px;font-size:8.2px;">0</div>
<div class="t" style="right:368.00px;top:495px;font-size:8.2px;">0</div>
<div class="t" style="right:337.40px;top:495px;font-size:8.2px;">1774</div>
<div class="t" style="right:304.20px;top:495px;font-size:8.2px;">11822</div>
<div class="t" style="right:192.90px;top:495px;font-size:8.2px;transform:scaleX(0.925);transform-origin:right 0;">Not estimable</div>
<div class="t" style="left:16.00px;top:505px;font-size:8.2px;transform:scaleX(0.955);transform-origin:left 0;">Kai 2017</div>
<div class="t" style="right:400.40px;top:505px;font-size:8.2px;">0</div>
<div class="t" style="right:368.00px;top:505px;font-size:8.2px;">0</div>
<div class="t" style="right:337.40px;top:505px;font-size:8.2px;">181</div>
<div class="t" style="right:304.20px;top:505px;font-size:8.2px;">888</div>
<div class="t" style="right:192.90px;top:505px;font-size:8.2px;transform:scaleX(0.925);transform-origin:right 0;">Not estimable</div>
<div class="t" style="left:16.00px;top:515px;font-size:8.2px;transform:scaleX(0.955);transform-origin:left 0;">Kalil 2016</div>
<div class="t" style="right:400.40px;top:515px;font-size:8.2px;">23</div>
<div class="t" style="right:368.00px;top:515px;font-size:8.2px;">864</div>
<div class="t" style="right:337.40px;top:515px;font-size:8.2px;">36</div>
<div class="t" style="right:304.20px;top:515px;font-size:8.2px;">1710</div>
<div class="t" style="right:273.60px;top:515px;font-size:8.2px;">3.4%</div>
<div class="t" style="right:193.40px;top:515px;font-size:8.2px;transform:scaleX(0.975);transform-origin:right 0;">1.27 [0.75 - 2.16]</div>
<div class="t" style="left:16.00px;top:525px;font-size:8.2px;transform:scaleX(0.955);transform-origin:left 0;">Kodani 2018</div>
<div class="t" style="right:400.40px;top:525px;font-size:8.2px;">0</div>
<div class="t" style="right:368.00px;top:525px;font-size:8.2px;">0</div>
<div class="t" style="right:337.40px;top:525px;font-size:8.2px;">96</div>
<div class="t" style="right:304.20px;top:525px;font-size:8.2px;">4243</div>
<div class="t" style="right:192.90px;top:525px;font-size:8.2px;transform:scaleX(0.925);transform-origin:right 0;">Not estimable</div>
<div class="t" style="left:16.00px;top:535px;font-size:8.2px;transform:scaleX(0.955);transform-origin:left 0;">Koretsune 2022</div>
<div class="t" style="right:400.40px;top:535px;font-size:8.2px;">91</div>
<div class="t" style="right:368.00px;top:535px;font-size:8.2px;">4523</div>
<div class="t" style="right:337.40px;top:535px;font-size:8.2px;">132</div>
<div class="t" style="right:304.20px;top:535px;font-size:8.2px;">4523</div>
<div class="t" style="right:273.60px;top:535px;font-size:8.2px;">3.9%</div>
<div class="t" style="right:193.40px;top:535px;font-size:8.2px;transform:scaleX(0.975);transform-origin:right 0;">0.68 [0.52 - 0.89]</div>
<div class="t" style="left:16.00px;top:545px;font-size:8.2px;transform:scaleX(0.955);transform-origin:left 0;">Lai 2009</div>
<div class="t" style="right:400.40px;top:545px;font-size:8.2px;">0</div>
<div class="t" style="right:368.00px;top:545px;font-size:8.2px;">0</div>
<div class="t" style="right:337.40px;top:545px;font-size:8.2px;">32</div>
<div class="t" style="right:304.20px;top:545px;font-size:8.2px;">232</div>
<div class="t" style="right:192.90px;top:545px;font-size:8.2px;transform:scaleX(0.925);transform-origin:right 0;">Not estimable</div>
<div class="t" style="left:16.00px;top:555px;font-size:8.2px;transform:scaleX(0.955);transform-origin:left 0;">Laugesen 2019</div>
<div class="t" style="right:400.40px;top:555px;font-size:8.2px;">15</div>
<div class="t" style="right:368.00px;top:555px;font-size:8.2px;">552</div>
<div class="t" style="right:337.40px;top:555px;font-size:8.2px;">55</div>
<div class="t" style="right:304.20px;top:555px;font-size:8.2px;">1008</div>
<div class="t" style="right:273.60px;top:555px;font-size:8.2px;">3.3%</div>
<div class="t" style="right:193.40px;top:555px;font-size:8.2px;transform:scaleX(0.975);transform-origin:right 0;">0.48 [0.27 - 0.86]</div>
<div class="t" style="left:16.00px;top:565px;font-size:8.2px;transform:scaleX(0.955);transform-origin:left 0;">Lee 2015</div>
<div class="t" style="right:400.40px;top:565px;font-size:8.2px;">6</div>
<div class="t" style="right:368.00px;top:565px;font-size:8.2px;">59</div>
<div class="t" style="right:337.40px;top:565px;font-size:8.2px;">71</div>
<div class="t" style="right:304.20px;top:565px;font-size:8.2px;">174</div>
<div class="t" style="right:273.60px;top:565px;font-size:8.2px;">2.6%</div>
<div class="t" style="right:193.40px;top:565px;font-size:8.2px;transform:scaleX(0.975);transform-origin:right 0;">0.16 [0.07 - 0.40]</div>
<div class="t" style="left:16.00px;top:576px;font-size:8.2px;transform:scaleX(0.955);transform-origin:left 0;">Lee 2017</div>
<div class="t" style="right:400.40px;top:576px;font-size:8.2px;">0</div>
<div class="t" style="right:368.00px;top:576px;font-size:8.2px;">0</div>
<div class="t" style="right:337.40px;top:576px;font-size:8.2px;">0</div>
<div class="t" style="right:304.20px;top:576px;font-size:8.2px;">0</div>
<div class="t" style="right:192.90px;top:576px;font-size:8.2px;transform:scaleX(0.925);transform-origin:right 0;">Not estimable</div>
<div class="t" style="left:16.00px;top:586px;font-size:8.2px;transform:scaleX(0.955);transform-origin:left 0;">Lin 2021</div>
<div class="t" style="right:400.40px;top:586px;font-size:8.2px;">23</div>
<div class="t" style="right:368.00px;top:586px;font-size:8.2px;">173</div>
<div class="t" style="right:337.40px;top:586px;font-size:8.2px;">560</div>
<div class="t" style="right:304.20px;top:586px;font-size:8.2px;">3185</div>
<div class="t" style="right:273.60px;top:586px;font-size:8.2px;">3.6%</div>
<div class="t" style="right:193.40px;top:586px;font-size:8.2px;transform:scaleX(0.975);transform-origin:right 0;">0.72 [0.46 - 1.13]</div>
<div class="t" style="left:16.00px;top:596px;font-size:8.2px;transform:scaleX(0.955);transform-origin:left 0;">Loo 2018</div>
<div class="t" style="right:400.40px;top:596px;font-size:8.2px;">23</div>
<div class="t" style="right:368.00px;top:596px;font-size:8.2px;">2596</div>
<div class="t" style="right:337.40px;top:596px;font-size:8.2px;">0</div>
<div class="t" style="right:304.20px;top:596px;font-size:8.2px;">0</div>
<div class="t" style="right:192.90px;top:596px;font-size:8.2px;transform:scaleX(0.925);transform-origin:right 0;">Not estimable</div>
<div class="t" style="left:16.00px;top:606px;font-size:8.2px;transform:scaleX(0.955);transform-origin:left 0;">Makani 2020</div>
<div class="t" style="right:400.40px;top:606px;font-size:8.2px;">975</div>
<div class="t" style="right:368.00px;top:606px;font-size:8.2px;">10794</div>
<div class="t" style="right:337.40px;top:606px;font-size:8.2px;">1856</div>
<div class="t" style="right:304.20px;top:606px;font-size:8.2px;">10939</div>
<div class="t" style="right:273.60px;top:606px;font-size:8.2px;">4.1%</div>
<div class="t" style="right:193.40px;top:606px;font-size:8.2px;transform:scaleX(0.975);transform-origin:right 0;">0.49 [0.45 - 0.53]</div>
<div class="t" style="left:16.00px;top:616px;font-size:8.2px;transform:scaleX(0.955);transform-origin:left 0;">Matusik 2021</div>
<div class="t" style="right:400.40px;top:616px;font-size:8.2px;">14</div>
<div class="t" style="right:368.00px;top:616px;font-size:8.2px;">90</div>
<div class="t" style="right:337.40px;top:616px;font-size:8.2px;">0</div>
<div class="t" style="right:304.20px;top:616px;font-size:8.2px;">0</div>
<div class="t" style="right:192.90px;top:616px;font-size:8.2px;transform:scaleX(0.925);transform-origin:right 0;">Not estimable</div>
<div class="t" style="left:16.00px;top:626px;font-size:8.2px;transform:scaleX(0.955);transform-origin:left 0;">Mitsuma 2015</div>
<div class="t" style="right:400.40px;top:626px;font-size:8.2px;">0</div>
<div class="t" style="right:368.00px;top:626px;font-size:8.2px;">0</div>
<div class="t" style="right:337.40px;top:626px;font-size:8.2px;">7</div>
<div class="t" style="right:304.20px;top:626px;font-size:8.2px;">27</div>
<div class="t" style="right:192.90px;top:626px;font-size:8.2px;transform:scaleX(0.925);transform-origin:right 0;">Not estimable</div>
<div class="t" style="left:16.00px;top:636px;font-size:8.2px;transform:scaleX(0.955);transform-origin:left 0;">Novikova 2021</div>
<div class="t" style="right:400.40px;top:636px;font-size:8.2px;">3</div>
<div class="t" style="right:368.00px;top:636px;font-size:8.2px;">79</div>
<div class="t" style="right:337.40px;top:636px;font-size:8.2px;">0</div>
<div class="t" style="right:304.20px;top:636px;font-size:8.2px;">0</div>
<div class="t" style="right:192.90px;top:636px;font-size:8.2px;transform:scaleX(0.925);transform-origin:right 0;">Not estimable</div>
<div class="t" style="left:16.00px;top:646px;font-size:8.2px;transform:scaleX(0.955);transform-origin:left 0;">Phan 2019</div>
<div class="t" style="right:400.40px;top:646px;font-size:8.2px;">0</div>
<div class="t" style="right:368.00px;top:646px;font-size:8.2px;">0</div>
<div class="t" style="right:337.40px;top:646px;font-size:8.2px;">13</div>
<div class="t" style="right:304.20px;top:646px;font-size:8.2px;">115</div>
<div class="t" style="right:192.90px;top:646px;font-size:8.2px;transform:scaleX(0.925);transform-origin:right 0;">Not estimable</div>
<div class="t" style="left:16.00px;top:656px;font-size:8.2px;transform:scaleX(0.955);transform-origin:left 0;">Schafer 2018</div>
<div class="t" style="right:400.40px;top:656px;font-size:8.2px;">4</div>
<div class="t" style="right:368.00px;top:656px;font-size:8.2px;">273</div>
<div class="t" style="right:337.40px;top:656px;font-size:8.2px;">22</div>
<div class="t" style="right:304.20px;top:656px;font-size:8.2px;">261</div>
<div class="t" style="right:273.60px;top:656px;font-size:8.2px;">2.2%</div>
<div class="t" style="right:193.40px;top:656px;font-size:8.2px;transform:scaleX(0.975);transform-origin:right 0;">0.16 [0.05 - 0.48]</div>
<div class="t" style="left:16.00px;top:666px;font-size:8.2px;transform:scaleX(0.955);transform-origin:left 0;">Shah 2014</div>
<div class="t" style="right:400.40px;top:666px;font-size:8.2px;">0</div>
<div class="t" style="right:368.00px;top:666px;font-size:8.2px;">0</div>
<div class="t" style="right:337.40px;top:666px;font-size:8.2px;">149</div>
<div class="t" style="right:304.20px;top:666px;font-size:8.2px;">756</div>
<div class="t" style="right:192.90px;top:666px;font-size:8.2px;transform:scaleX(0.925);transform-origin:right 0;">Not estimable</div>
<div class="t" style="left:16.00px;top:677px;font-size:8.2px;transform:scaleX(0.955);transform-origin:left 0;">Shen 2015</div>
<div class="t" style="right:400.40px;top:677px;font-size:8.2px;">0</div>
<div class="t" style="right:368.00px;top:677px;font-size:8.2px;">0</div>
<div class="t" style="right:337.40px;top:677px;font-size:8.2px;">153</div>
<div class="t" style="right:304.20px;top:677px;font-size:8.2px;">1838</div>
<div class="t" style="right:192.90px;top:677px;font-size:8.2px;transform:scaleX(0.925);transform-origin:right 0;">Not estimable</div>
<div class="t" style="left:16.00px;top:687px;font-size:8.2px;transform:scaleX(0.955);transform-origin:left 0;">Shin 2018</div>
<div class="t" style="right:400.40px;top:687px;font-size:8.2px;">863</div>
<div class="t" style="right:368.00px;top:687px;font-size:8.2px;">3206</div>
<div class="t" style="right:337.40px;top:687px;font-size:8.2px;">805</div>
<div class="t" style="right:304.20px;top:687px;font-size:8.2px;">3206</div>
<div class="t" style="right:273.60px;top:687px;font-size:8.2px;">4.1%</div>
<div class="t" style="right:193.40px;top:687px;font-size:8.2px;transform:scaleX(0.975);transform-origin:right 0;">1.10 [0.98 - 1.23]</div>
<div class="t" style="left:16.00px;top:697px;font-size:8.2px;transform:scaleX(0.955);transform-origin:left 0;">Siontis 2018</div>
<div class="t" style="right:400.40px;top:697px;font-size:8.2px;">129</div>
<div class="t" style="right:368.00px;top:697px;font-size:8.2px;">2351</div>
<div class="t" style="right:337.40px;top:697px;font-size:8.2px;">715</div>
<div class="t" style="right:304.20px;top:697px;font-size:8.2px;">7053</div>
<div class="t" style="right:273.60px;top:697px;font-size:8.2px;">4.0%</div>
<div class="t" style="right:193.40px;top:697px;font-size:8.2px;transform:scaleX(0.975);transform-origin:right 0;">0.51 [0.42 - 0.62]</div>
<div class="t" style="left:16.00px;top:707px;font-size:8.2px;transform:scaleX(0.955);transform-origin:left 0;">Stanifer 2020</div>
<div class="t" style="right:400.40px;top:707px;font-size:8.2px;">10</div>
<div class="t" style="right:368.00px;top:707px;font-size:8.2px;">136</div>
<div class="t" style="right:337.40px;top:707px;font-size:8.2px;">26</div>
<div class="t" style="right:304.20px;top:707px;font-size:8.2px;">133</div>
<div class="t" style="right:273.60px;top:707px;font-size:8.2px;">2.8%</div>
<div class="t" style="right:193.40px;top:707px;font-size:8.2px;transform:scaleX(0.975);transform-origin:right 0;">0.33 [0.15 - 0.71]</div>
<div class="t" style="left:16.00px;top:717px;font-size:8.2px;transform:scaleX(0.955);transform-origin:left 0;">Sy 2022</div>
<div class="t" style="right:400.40px;top:717px;font-size:8.2px;">0</div>
<div class="t" style="right:368.00px;top:717px;font-size:8.2px;">0</div>
<div class="t" style="right:337.40px;top:717px;font-size:8.2px;">973</div>
<div class="t" style="right:304.20px;top:717px;font-size:8.2px;">5960</div>
<div class="t" style="right:192.90px;top:717px;font-size:8.2px;transform:scaleX(0.925);transform-origin:right 0;">Not estimable</div>
<div class="t" style="left:16.00px;top:727px;font-size:8.2px;transform:scaleX(0.955);transform-origin:left 0;">Tan 2019</div>
<div class="t" style="right:400.40px;top:727px;font-size:8.2px;">0</div>
<div class="t" style="right:368.00px;top:727px;font-size:8.2px;">0</div>
<div class="t" style="right:337.40px;top:727px;font-size:8.2px;">407</div>
<div class="t" style="right:304.20px;top:727px;font-size:8.2px;">1651</div>
<div class="t" style="right:192.90px;top:727px;font-size:8.2px;transform:scaleX(0.925);transform-origin:right 0;">Not estimable</div>
<div class="t" style="left:16.00px;top:737px;font-size:8.2px;transform:scaleX(0.955);transform-origin:left 0;">VanderWall 2021</div>
<div class="t" style="right:400.40px;top:737px;font-size:8.2px;">38</div>
<div class="t" style="right:368.00px;top:737px;font-size:8.2px;">4873</div>
<div class="t" style="right:337.40px;top:737px;font-size:8.2px;">0</div>
<div class="t" style="right:304.20px;top:737px;font-size:8.2px;">0</div>
<div class="t" style="right:192.90px;top:737px;font-size:8.2px;transform:scaleX(0.925);transform-origin:right 0;">Not estimable</div>
<div class="t" style="left:16.00px;top:747px;font-size:8.2px;transform:scaleX(0.955);transform-origin:left 0;">Wakasugi 2014</div>
<div class="t" style="right:400.40px;top:747px;font-size:8.2px;">0</div>
<div class="t" style="right:368.00px;top:747px;font-size:8.2px;">0</div>
<div class="t" style="right:337.40px;top:747px;font-size:8.2px;">3</div>
<div class="t" style="right:304.20px;top:747px;font-size:8.2px;">28</div>
<div class="t" style="right:192.90px;top:747px;font-size:8.2px;transform:scaleX(0.925);transform-origin:right 0;">Not estimable</div>
<div class="t" style="left:16.00px;top:757px;font-size:8.2px;transform:scaleX(0.955);transform-origin:left 0;">Wang 2015</div>
<div class="t" style="right:400.40px;top:757px;font-size:8.2px;">0</div>
<div class="t" style="right:368.00px;top:757px;font-size:8.2px;">0</div>
<div class="t" style="right:337.40px;top:757px;font-size:8.2px;">22</div>
<div class="t" style="right:304.20px;top:757px;font-size:8.2px;">59</div>
<div class="t" style="right:192.90px;top:757px;font-size:8.2px;transform:scaleX(0.925);transform-origin:right 0;">Not estimable</div>
<div class="t" style="left:16.00px;top:767px;font-size:8.2px;transform:scaleX(0.955);transform-origin:left 0;">Weir 2017</div>
<div class="t" style="right:400.40px;top:767px;font-size:8.2px;">54</div>
<div class="t" style="right:368.00px;top:767px;font-size:8.2px;">1797</div>
<div class="t" style="right:337.40px;top:767px;font-size:8.2px;">132</div>
<div class="t" style="right:304.20px;top:767px;font-size:8.2px;">1961</div>
<div class="t" style="right:273.60px;top:767px;font-size:8.2px;">3.8%</div>
<div class="t" style="right:193.40px;top:767px;font-size:8.2px;transform:scaleX(0.975);transform-origin:right 0;">0.43 [0.31 - 0.59]</div>
<div class="t" style="left:16.00px;top:778px;font-size:8.2px;transform:scaleX(0.955);transform-origin:left 0;">Weir 2020</div>
<div class="t" style="right:400.40px;top:778px;font-size:8.2px;">66</div>
<div class="t" style="right:368.00px;top:778px;font-size:8.2px;">2317</div>
<div class="t" style="right:337.40px;top:778px;font-size:8.2px;">144</div>
<div class="t" style="right:304.20px;top:778px;font-size:8.2px;">2317</div>
<div class="t" style="right:273.60px;top:778px;font-size:8.2px;">3.8%</div>
<div class="t" style="right:193.40px;top:778px;font-size:8.2px;transform:scaleX(0.975);transform-origin:right 0;">0.44 [0.33 - 0.60]</div>
<div class="t" style="left:16.00px;top:788px;font-size:8.2px;transform:scaleX(0.955);transform-origin:left 0;">Wetmore 2020</div>
<div class="t" style="right:400.40px;top:788px;font-size:8.2px;">274</div>
<div class="t" style="right:368.00px;top:788px;font-size:8.2px;">10735</div>
<div class="t" style="right:337.40px;top:788px;font-size:8.2px;">270</div>
<div class="t" style="right:304.20px;top:788px;font-size:8.2px;">8431</div>
<div class="t" style="right:273.60px;top:788px;font-size:8.2px;">4.0%</div>
<div class="t" style="right:193.40px;top:788px;font-size:8.2px;transform:scaleX(0.975);transform-origin:right 0;">0.79 [0.67 - 0.94]</div>
<div class="t" style="left:16.00px;top:798px;font-size:8.2px;transform:scaleX(0.955);transform-origin:left 0;">Wilson 2019</div>
<div class="t" style="right:400.40px;top:798px;font-size:8.2px;">324</div>
<div class="t" style="right:368.00px;top:798px;font-size:8.2px;">4362</div>
<div class="t" style="right:337.40px;top:798px;font-size:8.2px;">1743</div>
<div class="t" style="right:304.20px;top:798px;font-size:8.2px;">23109</div>
<div class="t" style="right:273.60px;top:798px;font-size:8.2px;">4.0%</div>
<div class="t" style="right:193.40px;top:798px;font-size:8.2px;transform:scaleX(0.975);transform-origin:right 0;">0.98 [0.87 - 1.11]</div>
<div class="t" style="left:16.00px;top:808px;font-size:8.2px;transform:scaleX(0.955);transform-origin:left 0;">Winkelmayer 2011</div>
<div class="t" style="right:400.40px;top:808px;font-size:8.2px;">0</div>
<div class="t" style="right:368.00px;top:808px;font-size:8.2px;">0</div>
<div class="t" style="right:337.40px;top:808px;font-size:8.2px;">48</div>
<div class="t" style="right:304.20px;top:808px;font-size:8.2px;">237</div>
<div class="t" style="right:192.90px;top:808px;font-size:8.2px;transform:scaleX(0.925);transform-origin:right 0;">Not estimable</div>
<div class="t" style="left:16.00px;top:818px;font-size:8.2px;transform:scaleX(0.955);transform-origin:left 0;">Yanagisawa 2018</div>
<div class="t" style="right:400.40px;top:818px;font-size:8.2px;">12</div>
<div class="t" style="right:368.00px;top:818px;font-size:8.2px;">552</div>
<div class="t" style="right:337.40px;top:818px;font-size:8.2px;">10</div>
<div class="t" style="right:304.20px;top:818px;font-size:8.2px;">552</div>
<div class="t" style="right:273.60px;top:818px;font-size:8.2px;">2.7%</div>
<div class="t" style="right:193.40px;top:818px;font-size:8.2px;transform:scaleX(0.975);transform-origin:right 0;">1.20 [0.52 - 2.81]</div>
<div class="t" style="left:16.00px;top:828px;font-size:8.2px;transform:scaleX(0.955);transform-origin:left 0;">Yao 2017</div>
<div class="t" style="right:400.40px;top:828px;font-size:8.2px;">24</div>
<div class="t" style="right:368.00px;top:828px;font-size:8.2px;">410</div>
<div class="t" style="right:337.40px;top:828px;font-size:8.2px;">0</div>
<div class="t" style="right:304.20px;top:828px;font-size:8.2px;">0</div>
<div class="t" style="right:192.90px;top:828px;font-size:8.2px;transform:scaleX(0.925);transform-origin:right 0;">Not estimable</div>
<div class="t" style="left:16.00px;top:838px;font-size:8.2px;transform:scaleX(0.955);transform-origin:left 0;">Yao 2020</div>
<div class="t" style="right:400.40px;top:838px;font-size:8.2px;">2121</div>
<div class="t" style="right:368.00px;top:838px;font-size:8.2px;">22156</div>
<div class="t" style="right:337.40px;top:838px;font-size:8.2px;">397</div>
<div class="t" style="right:304.20px;top:838px;font-size:8.2px;">10680</div>
<div class="t" style="right:273.60px;top:838px;font-size:8.2px;">4.1%</div>
<div class="t" style="right:193.40px;top:838px;font-size:8.2px;transform:scaleX(0.975);transform-origin:right 0;">2.74 [2.46 - 3.06]</div>
<div class="t" style="left:16.00px;top:848px;font-size:8.2px;transform:scaleX(0.955);transform-origin:left 0;">Yodogawa 2016</div>
<div class="t" style="right:400.40px;top:848px;font-size:8.2px;">0</div>
<div class="t" style="right:368.00px;top:848px;font-size:8.2px;">0</div>
<div class="t" style="right:337.40px;top:848px;font-size:8.2px;">3</div>
<div class="t" style="right:304.20px;top:848px;font-size:8.2px;">30</div>
<div class="t" style="right:192.90px;top:848px;font-size:8.2px;transform:scaleX(0.925);transform-origin:right 0;">Not estimable</div>
<div class="t" style="left:16.00px;top:858px;font-size:8.2px;transform:scaleX(0.955);transform-origin:left 0;">Yoon 2017</div>
<div class="t" style="right:400.40px;top:858px;font-size:8.2px;">0</div>
<div class="t" style="right:368.00px;top:858px;font-size:8.2px;">0</div>
<div class="t" style="right:337.40px;top:858px;font-size:8.2px;">0</div>
<div class="t" style="right:304.20px;top:858px;font-size:8.2px;">0</div>
<div class="t" style="right:192.90px;top:858px;font-size:8.2px;transform:scaleX(0.925);transform-origin:right 0;">Not estimable</div>
<div class="t" style="left:16.00px;top:867px;font-size:7.8px;font-weight:bold;transform:scaleX(1);transform-origin:left 0;">Subtotal (95% CI)</div>
<div class="t" style="right:368.00px;top:867px;font-size:7.8px;font-weight:bold;">97772</div>
<div class="t" style="right:304.20px;top:867px;font-size:7.8px;font-weight:bold;">148529</div>
<div class="t" style="right:273.60px;top:867px;font-size:7.8px;font-weight:bold;">78.6%</div>
<div class="t" style="right:192.60px;top:867px;font-size:7.8px;font-weight:bold;">0.66 [0.49 - 0.88]</div>
<div class="t" style="left:16.00px;top:878px;font-size:8.2px;transform:scaleX(0.925);transform-origin:left 0;">Total events</div>
<div class="t" style="right:401.40px;top:878px;font-size:8.2px;">5531</div>
<div class="t" style="right:338.40px;top:878px;font-size:8.2px;">14960</div>
<div class="t" style="left:16.00px;top:888px;font-size:8.2px;transform:scaleX(0.951);transform-origin:left 0;">Heterogeneity: Tau<span class="sup">2</span> = 0.43; &chi;<span class="sup">2</span> = 759.47, df = 23 (<i>P</i> &lt; .00001); I<span class="sup">2</span> = 97%</div>
<div class="t" style="left:16.00px;top:898px;font-size:8.2px;transform:scaleX(0.951);transform-origin:left 0;">Test for overall effect: Z = 2.84 (<i>P</i> = .005)</div>
<div class="t" style="left:16.00px;top:917px;font-size:7.8px;font-weight:bold;transform:scaleX(1);transform-origin:left 0;">Total (95% CI)</div>
<div class="t" style="right:368.00px;top:917px;font-size:7.8px;font-weight:bold;">116509</div>
<div class="t" style="right:304.20px;top:917px;font-size:7.8px;font-weight:bold;">166632</div>
<div class="t" style="right:273.60px;top:917px;font-size:7.8px;font-weight:bold;">100.0%</div>
<div class="t" style="right:192.60px;top:917px;font-size:7.8px;font-weight:bold;">0.68 [0.54 - 0.86]</div>
<div class="t" style="left:16.00px;top:928px;font-size:8.2px;transform:scaleX(0.925);transform-origin:left 0;">Total events</div>
<div class="t" style="right:401.40px;top:928px;font-size:8.2px;">6572</div>
<div class="t" style="right:338.40px;top:928px;font-size:8.2px;">16007</div>
<div class="t" style="left:16.00px;top:939px;font-size:8.2px;transform:scaleX(0.951);transform-origin:left 0;">Heterogeneity: Tau<span class="sup">2</span> = 0.35; &chi;<span class="sup">2</span> = 793.24, df = 29 (<i>P</i> &lt; .00001); I<span class="sup">2</span> = 96%</div>
<div class="t" style="left:16.00px;top:949px;font-size:8.2px;transform:scaleX(0.951);transform-origin:left 0;">Test for overall effect: Z = 3.25 (<i>P</i> = .001)</div>
<div class="t" style="left:16.00px;top:959px;font-size:8.2px;transform:scaleX(0.951);transform-origin:left 0;">Test for subgroup differences: &chi;<span class="sup">2</span> = 0.66, df = 1 (<i>P</i> = .42), I<span class="sup">2</span> = 0%</div>
<div class="t" style="left:183.50px;width:300px;text-align:center;top:951px;font-size:9.4px;color:#111;">0.01</div>
<div class="t" style="left:225.40px;width:300px;text-align:center;top:951px;font-size:9.4px;color:#111;">0.1</div>
<div class="t" style="left:267.30px;width:300px;text-align:center;top:951px;font-size:9.4px;color:#111;">1</div>
<div class="t" style="left:309.20px;width:300px;text-align:center;top:951px;font-size:9.4px;color:#111;">10</div>
<div class="t" style="left:351.10px;width:300px;text-align:center;top:951px;font-size:9.4px;color:#111;">100</div>
<div class="t" style="left:225.80px;width:300px;text-align:center;top:968px;font-size:11.3px;font-weight:bold;"><span style="display:inline-block;transform:scaleX(0.68);">Favours DOAC</span></div>
<div class="t" style="left:309.60px;width:300px;text-align:center;top:968px;font-size:11.3px;font-weight:bold;"><span style="display:inline-block;transform:scaleX(0.70);">Favours warfarin</span></div>
</div></body></html>
